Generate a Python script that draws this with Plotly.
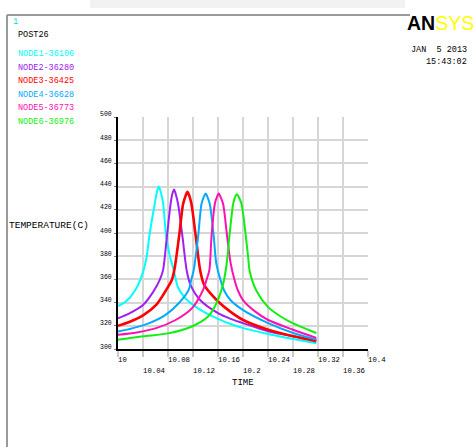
import plotly.graph_objects as go

# ---------------- data ----------------
series_names = ["NODE1-36106", "NODE2-36280", "NODE3-36425",
                "NODE4-36628", "NODE5-36773", "NODE6-36976"]
series_colors = ["#00FFFF", "#A020F0", "#FF0000", "#00AAFF", "#FF10B0", "#10F010"]

t_node1 = [10.000, 10.010, 10.020, 10.030, 10.036, 10.045, 10.050, 10.055, 10.059, 10.062,
           10.065, 10.068, 10.072, 10.077, 10.083, 10.0895, 10.096, 10.107, 10.120, 10.137,
           10.160, 10.180, 10.200, 10.240, 10.280, 10.317]
temp_node1 = [337, 340, 345, 353, 360, 377, 397, 414, 426, 435,
              440, 436, 426, 397, 380, 367, 353, 344, 338, 332,
              326, 321.5, 318, 313, 308.7, 305]

t_node2 = [10.000, 10.019, 10.040, 10.056, 10.067, 10.072, 10.078, 10.084, 10.087, 10.0896,
           10.092, 10.096, 10.103, 10.110, 10.116, 10.1316, 10.1605, 10.180, 10.200, 10.240,
           10.280, 10.317]
temp_node2 = [326.5, 331, 338, 349, 360, 368, 396, 425, 434, 437.5,
              434, 425, 397, 367, 355, 342, 330.7, 326, 322.3, 315.2,
              311, 307.5]

t_node3 = [10.000, 10.019, 10.040, 10.061, 10.076, 10.086, 10.090, 10.0976, 10.104, 10.108,
           10.111, 10.114, 10.1174, 10.1243, 10.1316, 10.138, 10.158, 10.180, 10.200, 10.240,
           10.280, 10.317]
temp_node3 = [320, 323.5, 329, 338, 350, 359.5, 368, 397, 425, 432,
              435.5, 432, 425, 397, 367, 355, 342, 332, 325, 316.6,
              311, 306.8]

t_node4 = [10.000, 10.024, 10.050, 10.076, 10.097, 10.113, 10.117, 10.121, 10.128, 10.1334,
           10.137, 10.140, 10.143, 10.1467, 10.153, 10.157, 10.163, 10.170, 10.180, 10.200,
           10.240, 10.280, 10.317]
temp_node4 = [315, 318, 322.3, 329.4, 339.4, 351, 359.5, 368, 397, 425,
              431, 434, 431, 425, 397, 374, 361, 350, 342, 333.5,
              322.3, 313.8, 308.2]

t_node5 = [10.000, 10.030, 10.061, 10.092, 10.118, 10.136, 10.1414, 10.146, 10.1494, 10.1547,
           10.158, 10.161, 10.164, 10.168, 10.1744, 10.180, 10.186, 10.192, 10.200, 10.220,
           10.240, 10.280, 10.317]
temp_node5 = [312.3, 314.3, 318, 325, 335, 351, 359.5, 368, 397, 425,
              431, 434, 431, 425, 397, 374, 360, 350, 342, 332,
              325, 316.6, 309.6]

t_node6 = [10.000, 10.040, 10.082, 10.118, 10.144, 10.157, 10.168, 10.174, 10.178, 10.184,
           10.187, 10.190, 10.193, 10.1974, 10.2043, 10.208, 10.2105, 10.221, 10.2395, 10.260,
           10.279, 10.317]
temp_node6 = [308, 310.9, 313.7, 319.4, 328, 339, 356, 375, 397, 425,
              431, 433.5, 431, 425, 397, 379, 367, 350.4, 336.3, 328,
              322.3, 313.8]

x_tick_vals = [10.0, 10.04, 10.08, 10.12, 10.16, 10.2, 10.24, 10.28, 10.32, 10.36, 10.4]
x_tick_text = ["10", "10.04", "10.08", "10.12", "10.16", "10.2", "10.24", "10.28", "10.32", "10.36", "10.4"]
y_tick_vals = [300, 320, 340, 360, 380, 400, 420, 440, 460, 480, 500]
y_tick_text = [str(v) for v in y_tick_vals]

x_title = "TIME"
y_title = "TEMPERATURE(C)"
header_id = "1"
header_title = "POST26"
date_text = "JAN  5 2013"
time_text = "15:43:02"

# ---------------- figure ----------------
W, H = 474, 447
MONO = "'Liberation Mono', 'DejaVu Sans Mono', monospace"


def px(xp):
    return xp / W


def py(yp):
    return (H - yp) / H


x_left, x_right = 118, 368.3
y_top, y_bottom = 117, 349

all_t = [t_node1, t_node2, t_node3, t_node4, t_node5, t_node6]
all_v = [temp_node1, temp_node2, temp_node3, temp_node4, temp_node5, temp_node6]

fig = go.Figure()
for i, (tt, vv) in enumerate(zip(all_t, all_v)):
    fig.add_trace(go.Scatter(
        x=tt, y=vv, mode="lines", name=series_names[i],
        line=dict(color=series_colors[i], width=2.6 if i == 2 else 2, shape="spline", smoothing=0.8),
        showlegend=False, hoverinfo="skip"))

annotations = []
# legend texts
legend_y = [54, 68, 81.3, 94.7, 108.3, 121.7]
for i, name in enumerate(series_names):
    annotations.append(dict(x=px(16), y=py(legend_y[i]), xref="paper", yref="paper",
                            text=name, showarrow=False, xanchor="left", yanchor="middle",
                            font=dict(family=MONO, size=8.5, color=series_colors[i])))
annotations.append(dict(x=px(11), y=py(22), xref="paper", yref="paper", text=header_id,
                        showarrow=False, xanchor="left", yanchor="middle",
                        font=dict(family=MONO, size=8.5, color="#00E0E0")))
annotations.append(dict(x=px(16), y=py(35), xref="paper", yref="paper", text=header_title,
                        showarrow=False, xanchor="left", yanchor="middle",
                        font=dict(family=MONO, size=8.5, color="#000000")))
# ANSYS logo + date
annotations.append(dict(x=px(405), y=py(23), xref="paper", yref="paper",
                        text="<b>AN</b><span style='color:#FFFF00'>SYS</span>",
                        showarrow=False, xanchor="left", yanchor="middle",
                        font=dict(family="'Liberation Sans Narrow', 'Liberation Sans', Arial, sans-serif",
                                  size=19.5, color="#000000")))
annotations.append(dict(x=px(469), y=py(50), xref="paper", yref="paper", text=date_text,
                        showarrow=False, xanchor="right", yanchor="middle",
                        font=dict(family=MONO, size=8.5, color="#000000")))
annotations.append(dict(x=px(469), y=py(62.3), xref="paper", yref="paper", text=time_text,
                        showarrow=False, xanchor="right", yanchor="middle",
                        font=dict(family=MONO, size=8.5, color="#000000")))
# axis titles
annotations.append(dict(x=px(7), y=py(225), xref="paper", yref="paper", text=y_title,
                        showarrow=False, xanchor="left", yanchor="middle",
                        font=dict(family=MONO, size=9.5, color="#000000")))
annotations.append(dict(x=10.2, y=py(383), xref="x", yref="paper", text=x_title,
                        showarrow=False, xanchor="center", yanchor="middle",
                        font=dict(family=MONO, size=9, color="#000000")))
# x tick labels (staggered)
for i, (v, s) in enumerate(zip(x_tick_vals, x_tick_text)):
    annotations.append(dict(x=v, y=py(360 if i % 2 == 0 else 371), xref="x", yref="paper",
                            text=s, showarrow=False, xanchor="left", yanchor="middle",
                            xshift=-2,
                            font=dict(family=MONO, size=7.3, color="#000000")))
# y tick labels
for v, s in zip(y_tick_vals, y_tick_text):
    annotations.append(dict(x=px(114), y=v, xref="paper", yref="y", text=s,
                            showarrow=False, xanchor="right", yanchor="middle", yshift=2,
                            font=dict(family=MONO, size=6.5, color="#000000")))

shapes = [
    # faint shadow at very top
    dict(type="rect", xref="paper", yref="paper", x0=px(90), x1=px(405), y0=py(8), y1=1,
         fillcolor="#f2f2f2", line=dict(width=0), layer="below"),
    # window frame
    dict(type="line", xref="paper", yref="paper", x0=px(7), x1=px(7), y0=py(15), y1=0,
         line=dict(color="#9a9a9a", width=2)),
    dict(type="line", xref="paper", yref="paper", x0=px(7), x1=px(410), y0=py(15), y1=py(15),
         line=dict(color="#9a9a9a", width=2)),
]

fig.update_layout(
    width=W, height=H,
    margin=dict(l=0, r=0, t=0, b=0),
    paper_bgcolor="white", plot_bgcolor="white",
    annotations=annotations, shapes=shapes,
    showlegend=False,
    xaxis=dict(domain=[px(x_left), px(x_right)], range=[10, 10.4],
               tickvals=x_tick_vals, showticklabels=False,
               showgrid=True, gridcolor="#d6d6d6", gridwidth=1.5,
               showline=True, linecolor="#000000", linewidth=2,
               ticks="outside", ticklen=6, tickcolor="#c8c8c8", tickwidth=1.5,
               zeroline=False, fixedrange=True),
    yaxis=dict(domain=[py(y_bottom), py(y_top)], range=[300, 500],
               tickvals=y_tick_vals, showticklabels=False,
               showgrid=True, gridcolor="#d6d6d6", gridwidth=1.5,
               showline=True, linecolor="#000000", linewidth=2,
               ticks="outside", ticklen=2, tickcolor="#808080", tickwidth=1,
               zeroline=False, fixedrange=True),
)

fig.write_html("out.html", config={"displayModeBar": False},
               post_script="document.body.style.margin='0';document.body.style.overflow='hidden';")
